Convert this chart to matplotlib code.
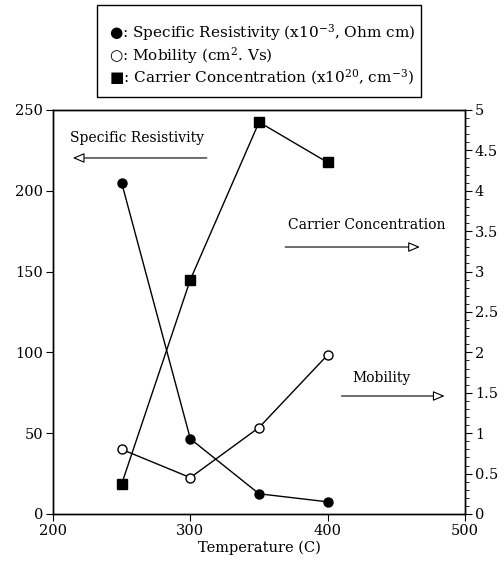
import matplotlib
matplotlib.use("Agg")
import matplotlib.pyplot as plt
from matplotlib.patches import Rectangle
from matplotlib.ticker import MultipleLocator

plt.rcParams["font.family"] = ["DejaVu Serif", "DejaVu Sans"]
plt.rcParams["mathtext.fontset"] = "dejavuserif"

# ── Data ──────────────────────────────────────────────────────────────────────
temperature = [250, 300, 350, 400]
resistivity = [205, 46.5, 12.5, 7.5]      # x10^-3 Ohm cm (left axis)
mobility = [40, 22.5, 53.5, 98.5]          # cm^2/Vs (left axis)
carrier_conc = [0.37, 2.9, 4.85, 4.35]     # x10^20 cm^-3 (right axis)

legend_lines = [
    "●: Specific Resistivity (x10$^{-3}$, Ohm cm)",
    "○: Mobility (cm$^{2}$. Vs)",
    "■: Carrier Concentration (x10$^{20}$, cm$^{-3}$)",
]

# ── Figure ────────────────────────────────────────────────────────────────────
fig = plt.figure(figsize=(5.04, 5.66), dpi=100)
ax = fig.add_axes([0.105, 0.0919, 0.818, 0.7138])
ax2 = ax.twinx()

ax.plot(temperature, resistivity, color="black", linewidth=1.0, marker="o",
        markersize=6.5, markerfacecolor="black", zorder=3)
ax.plot(temperature, mobility, color="black", linewidth=1.0, marker="o",
        markersize=6.5, markerfacecolor="white", zorder=3)
ax2.plot(temperature, carrier_conc, color="black", linewidth=1.0, marker="s",
         markersize=7.5, markerfacecolor="black", zorder=3)

ax.set_xlim(200, 500)
ax.set_ylim(0, 250)
ax2.set_ylim(0, 5)

ax.xaxis.set_major_locator(MultipleLocator(100))
ax.yaxis.set_major_locator(MultipleLocator(50))
ax2.yaxis.set_major_locator(MultipleLocator(0.5))
ax2.yaxis.set_minor_locator(MultipleLocator(0.1))
ax2.set_yticklabels([f"{v:g}" for v in ax2.get_yticks()])

ax.tick_params(axis="both", direction="out", length=5, width=0.8, labelsize=10.5, pad=2)
ax2.tick_params(axis="y", which="major", direction="out", length=5, width=0.8, labelsize=10.5, pad=2)
ax2.tick_params(axis="y", which="minor", direction="out", length=3, width=0.6)
for a in (ax, ax2):
    for sp in a.spines.values():
        sp.set_linewidth(1.0)

ax.set_xlabel("Temperature (C)", fontsize=10.5, labelpad=2)

# ── Annotations with open arrows ──────────────────────────────────────────────
arrow_kw = dict(arrowstyle="-|>,head_length=0.7,head_width=0.3", color="black",
                lw=0.8, fc="white", shrinkA=0, shrinkB=0)

ax.text(261.5, 232.7, "Specific Resistivity", ha="center", va="center", fontsize=10)
ax.annotate("", xy=(214.5, 220.3), xytext=(312, 220.3), arrowprops=arrow_kw)

ax.text(428.5, 178.8, "Carrier Concentration", ha="center", va="center", fontsize=10)
ax.annotate("", xy=(467, 165.2), xytext=(369, 165.2), arrowprops=arrow_kw)

ax.text(439, 84, "Mobility", ha="center", va="center", fontsize=10)
ax.annotate("", xy=(485, 73), xytext=(410, 73), arrowprops=arrow_kw)

# ── Legend box ────────────────────────────────────────────────────────────────
fig.patches.append(Rectangle((0.1925, 0.8286), 0.643, 0.1624, transform=fig.transFigure,
                             fill=False, edgecolor="black", linewidth=1.0))
for i, line in enumerate(legend_lines):
    fig.text(0.216, 0.9417 - i * 0.039, line, ha="left", va="center", fontsize=11)

fig.savefig("out.png", dpi=100)
